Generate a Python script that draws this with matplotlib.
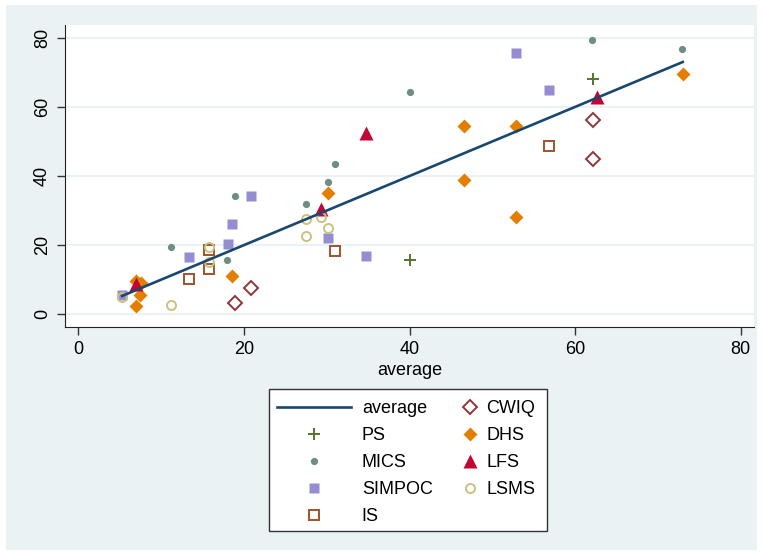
import numpy as np
import matplotlib.pyplot as plt
from matplotlib.patches import Rectangle

plt.rcParams['font.family'] = ['Liberation Sans', 'DejaVu Sans']

# survey estimates vs. average
ps_x = [40.0, 62.1]
ps_y = [15.6, 68.0]
mics_x = [11.2, 18.9, 18.0, 27.5, 30.2, 31.0, 40.0, 62.0, 72.9]
mics_y = [19.6, 34.3, 15.7, 32.0, 38.2, 43.6, 64.2, 79.5, 76.8]
simpoc_x = [5.3, 13.4, 18.1, 18.6, 20.9, 30.2, 34.7, 52.8, 56.8]
simpoc_y = [5.6, 16.7, 20.3, 26.0, 34.1, 22.2, 16.8, 75.6, 65.0]
is_x = [13.4, 15.8, 15.8, 31.0, 56.8]
is_y = [10.1, 13.0, 18.6, 18.2, 48.8]
cwiq_x = [18.9, 20.9, 62.1, 62.1]
cwiq_y = [3.2, 7.5, 44.8, 56.2]
dhs_x = [7.0, 7.6, 7.5, 7.0, 18.6, 30.2, 46.6, 46.6, 52.8, 52.8, 73.0]
dhs_y = [9.7, 9.0, 5.6, 2.4, 11.1, 35.1, 38.8, 54.4, 54.5, 28.2, 69.4]
lfs_x = [7.0, 29.3, 34.7, 62.7]
lfs_y = [8.7, 30.5, 52.5, 62.8]
lsms_x = [5.3, 11.2, 15.8, 15.8, 27.5, 27.5, 29.3, 30.2]
lsms_y = [4.9, 2.8, 19.4, 15.2, 27.7, 22.7, 28.2, 25.1]

navy = '#1a476f'
bg = '#eaf2f3'

fig = plt.figure(figsize=(7.62, 5.55), dpi=100, facecolor='white')
fig.patches.append(Rectangle((6/762, 5/555), 751/762, 545/555, transform=fig.transFigure,
                             facecolor=bg, edgecolor='none', zorder=-10))
ax = fig.add_axes([65/762, 1-326.7/555, 689/762, 301.7/555])
ax.set_facecolor('white')

avg = np.sort(np.concatenate([ps_x, mics_x, simpoc_x, is_x, cwiq_x, dhs_x, lfs_x, lsms_x]))
l_avg, = ax.plot(avg, avg, color=navy, lw=1.9, zorder=3, label='average')
s_ps, = ax.plot(ps_x, ps_y, ls='none', marker='+', ms=8, mew=1.4, color='#55752f', label='PS')
s_mics, = ax.plot(mics_x, mics_y, ls='none', marker='o', ms=5.2, color='#6e8e84', mec='none', label='MICS')
s_simpoc, = ax.plot(simpoc_x, simpoc_y, ls='none', marker='s', ms=7.4, color='#938dd2', mec='none', label='SIMPOC')
s_is, = ax.plot(is_x, is_y, ls='none', marker='s', ms=6.5, mfc='none', mec='#a0522d', mew=1.4, label='IS')
s_cwiq, = ax.plot(cwiq_x, cwiq_y, ls='none', marker='D', ms=6.8, mfc='none', mec='#90353b', mew=1.4, label='CWIQ')
s_dhs, = ax.plot(dhs_x, dhs_y, ls='none', marker='D', ms=7.6, color='#e37e00', mec='none', label='DHS')
s_lfs, = ax.plot(lfs_x, lfs_y, ls='none', marker='^', ms=10, color='#c10534', mec='none', label='LFS')
s_lsms, = ax.plot(lsms_x, lsms_y, ls='none', marker='o', ms=6.5, mfc='none', mec='#cac27e', mew=1.4, label='LSMS')

ax.set_xlim(-1.6, 81.6)
ax.set_ylim(-3.6, 83.7)
ax.set_xticks([0, 20, 40, 60, 80])
ax.set_yticks([0, 20, 40, 60, 80])
ax.tick_params(labelsize=13, length=6, width=1, color='#333333', pad=4)
for lab in ax.get_yticklabels():
    lab.set_rotation(90)
    lab.set_va('center')
ax.yaxis.grid(True, color=bg, lw=1.5)
ax.set_axisbelow(True)
ax.spines['top'].set_visible(False)
ax.spines['right'].set_visible(False)
ax.spines['left'].set_color('#222222')
ax.spines['bottom'].set_color('#222222')
ax.set_xlabel('average', fontsize=13, labelpad=3)

# legend: two key columns inside one frame
fig.patches.append(Rectangle((269/762, 1-531/555), 278/762, 142/555, transform=fig.transFigure,
                             facecolor='white', edgecolor='#333333', lw=1, zorder=1))
leg1 = fig.legend(handles=[l_avg, s_ps, s_mics, s_simpoc, s_is], loc='upper left',
                  bbox_to_anchor=(277/762, 1-400/555), frameon=False, fontsize=13,
                  handlelength=4.1, handletextpad=0.6, borderpad=0, borderaxespad=0,
                  labelspacing=0.56)
leg2 = fig.legend(handles=[s_cwiq, s_dhs, s_lfs, s_lsms], loc='upper left',
                  bbox_to_anchor=(461/762, 1-400/555), frameon=False, fontsize=13,
                  handlelength=1.0, handletextpad=0.4, borderpad=0, borderaxespad=0,
                  labelspacing=0.56)

plt.savefig('out.png', dpi=100)
